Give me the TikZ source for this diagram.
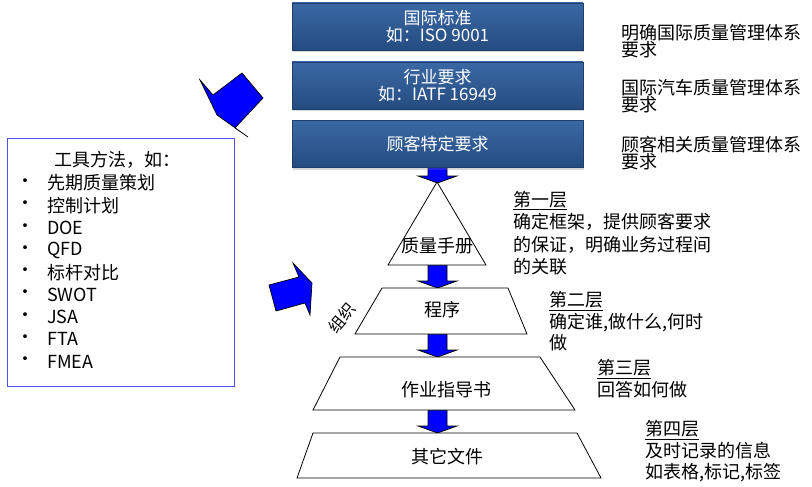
\documentclass[tikz,border=0pt]{standalone}
\usepackage{fontspec}
\setmainfont{Noto Sans CJK SC}
\usetikzlibrary{shadows}

\definecolor{reqblue}{RGB}{45,89,146}
\definecolor{reqtop}{RGB}{58,104,164}
\definecolor{reqbot}{RGB}{37,76,128}
\definecolor{reqline}{RGB}{30,62,108}
\definecolor{toolline}{RGB}{80,80,240}

\tikzset{
  reqbox/.style={draw=reqline, top color=reqtop, bottom color=reqbot,
    minimum width=291pt, minimum height=47pt, text=white, align=center,
    font=\fontsize{17}{17}\selectfont, inner sep=0pt,
    drop shadow={opacity=0.3, shadow xshift=1pt, shadow yshift=-2pt}},
  note/.style={anchor=west, align=left, inner sep=0pt,
    font=\fontsize{18}{17}\selectfont},
  layer/.style={anchor=west, align=left, inner sep=0pt,
    font=\fontsize{18}{22.5}\selectfont},
  tier/.style={draw=black, fill=white, line width=0.8pt, line join=miter},
  tierlabel/.style={inner sep=0pt, font=\fontsize{18}{18}\selectfont},
  blk/.style={draw=black, fill=blue, line width=0.7pt, line join=miter},
  toolbox/.style={draw=toolline, line width=0.9pt, fill=white,
    minimum width=227pt, minimum height=248pt, inner sep=0pt},
  tool/.style={anchor=west, inner sep=0pt, font=\fontsize{18}{18}\selectfont},
}

% down block arrow: top y, tip y
\newcommand{\dnblk}[2]{%
  \draw[blk] (428,#1) -- (447,#1) -- (447,#2-7) -- (457,#2-7) -- (437.5,#2)
    -- (418,#2-7) -- (428,#2-7) -- cycle;}

\begin{document}
\begin{tikzpicture}[x=1pt,y=-1pt]
\useasboundingbox[fill=white] (0,0) rectangle (812,487);

% arrows between the layers
\dnblk{160}{183}
\dnblk{265}{288}
\dnblk{334}{357}
\dnblk{410}{433}

% requirement boxes
\node[reqbox] (iso) at (437.5,26.5) {国际标准\\如：ISO 9001};
\node[reqbox] (iatf) at (437.5,85.5) {行业要求\\如：IATF 16949};
\node[reqbox] (csr) at (437.5,144) {顾客特定要求};

\node[note] (isonote) at (621,41.5) {明确国际质量管理体系\\要求};
\node[note] (iatfnote) at (621,96.5) {国际汽车质量管理体系\\要求};
\node[note] (csrnote) at (621,153.5) {顾客相关质量管理体系\\要求};

% document pyramid
\draw[tier] (437,182) -- (486,265) -- (388,265) -- cycle;
\draw[tier] (382,288) -- (508,288) -- (527,334) -- (355,334) -- cycle;
\draw[tier] (340,357) -- (540,357) -- (575,410) -- (313,410) -- cycle;
\draw[tier] (313,433) -- (577,433) -- (601,478) -- (297,478) -- cycle;

\node[tierlabel] (manual) at (437,246) {质量手册};
\node[tierlabel] (proc) at (442,310) {程序};
\node[tierlabel] (wi) at (446,390) {作业指导书};
\node[tierlabel] (other) at (447,457) {其它文件};
\node[inner sep=0pt, rotate=50, font=\fontsize{16}{16}\selectfont] (org) at (342,318) {组织};

\node[layer] (l1) at (513,233) {\underline{第一层}\\确定框架，提供顾客要求\\的保证，明确业务过程间\\的关联};
\node[layer, font=\fontsize{18}{21.5}\selectfont] (l2) at (549,321.5) {\underline{第二层}\\确定谁,做什么,何时\\做};
\node[layer, font=\fontsize{18}{22}\selectfont] (l3) at (597,379) {\underline{第三层}\\回答如何做};
\node[layer, font=\fontsize{18}{21.5}\selectfont] (l4) at (645,451.5) {\underline{第四层}\\及时记录的信息\\如表格,标记,标签};

% tools
\node[toolbox] (tools) at (120.5,262) {};
\node[tierlabel] (toolhead) at (117,160) {工具方法，如：};
\foreach \tl [count=\i] in {先期质量策划,控制计划,DOE,QFD,标杆对比,SWOT,JSA,FTA,FMEA} {
  \node[tool] (dot\i) at (16,160.8+22.3*\i) {\textbullet};
  \node[tool] (tool\i) at (47,160.8+22.3*\i) {\tl};
}

\draw[blk] (200,80) -- (213,95) -- (242,73) -- (263,98) -- (235,128)
  -- (248,137) -- (217,115) -- cycle;
\draw[blk] (269,285) -- (299,277) -- (293,263) -- (312,283) -- (310,315)
  -- (305,303) -- (276,311) -- cycle;
\end{tikzpicture}
\end{document}
